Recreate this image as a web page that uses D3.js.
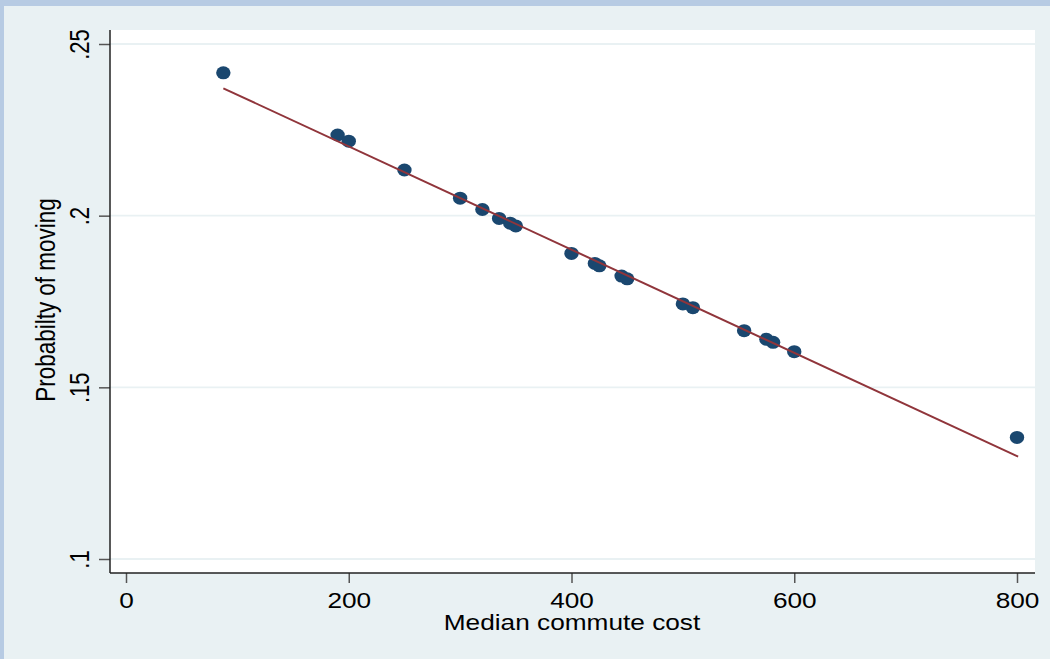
<!DOCTYPE html>
<html>
<head>
<meta charset="utf-8">
<script src="https://cdn.jsdelivr.net/npm/d3@7"></script>
<style>
  html, body { margin: 0; padding: 0; background: #e9f1f3; }
  svg { display: block; }
  text { font-family: "Liberation Sans", Arial, sans-serif; fill: #000; }
</style>
</head>
<body>
<svg id="chart" width="1050" height="659"></svg>
<script>
// commute cost vs probability of moving
var commuteCost = [87.4, 190, 200, 250, 300, 320, 335, 345, 350, 400, 421, 425,
                   445, 450, 500, 509, 555, 575, 581, 600, 800];
var probMoving  = [0.2416, 0.2235, 0.2217, 0.2133, 0.2051, 0.2018, 0.1992, 0.1978, 0.1970,
                   0.1890, 0.1861, 0.1854, 0.1824, 0.1816, 0.1743, 0.1732, 0.1665, 0.1640,
                   0.1631, 0.1604, 0.1354];

// fitted line end points
var fitX = [87.4, 801];
var fitY = [0.2371, 0.1298];

var xTicks = [0, 200, 400, 600, 800];
var yTicks = [0.1, 0.15, 0.2, 0.25];
var yTickLabels = [".1", ".15", ".2", ".25"];

var W = 1050, H = 659;
var plot = { left: 110, right: 1035, top: 30, bottom: 573 };
var stretch = 1.22;

var svg = d3.select('#chart');

var x = d3.scaleLinear().domain([0, 800]).range([126, 1017]);
var y = d3.scaleLinear().domain([0.1, 0.25]).range([559, 44]);

// outer frame
svg.append('rect').attr('x', 0).attr('y', 0).attr('width', W).attr('height', H).attr('fill', '#b7cbe3');
svg.append('rect').attr('x', 4).attr('y', 6).attr('width', W - 4).attr('height', H - 6).attr('fill', '#e9f1f3');

// plot region
svg.append('rect')
    .attr('x', plot.left).attr('y', plot.top)
    .attr('width', plot.right - plot.left).attr('height', plot.bottom - plot.top)
    .attr('fill', '#fff');

// grid
svg.append('g').selectAll('line')
    .data(yTicks)
    .enter().append('line')
    .attr('x1', plot.left).attr('x2', plot.right)
    .attr('y1', function(d) { return y(d); })
    .attr('y2', function(d) { return y(d); })
    .attr('stroke', '#e9f1f3')
    .attr('stroke-width', 1.8);

// y axis
var yAxis = d3.axisLeft(y).tickValues(yTicks).tickSize(11)
    .tickFormat(function(d, i) { return yTickLabels[i]; });
var gy = svg.append('g').attr('transform', 'translate(' + plot.left + ',0)').call(yAxis);
gy.select('.domain').remove();
gy.selectAll('.tick line').attr('stroke', '#555').attr('stroke-width', 1.5);
gy.selectAll('.tick text').remove();
gy.selectAll('.tick').append('text')
    .attr('transform', 'translate(-21,0) scale(' + stretch + ',1) rotate(-90)')
    .attr('text-anchor', 'middle')
    .attr('font-size', 22)
    .text(function(d, i) { return yTickLabels[i]; });

svg.append('line')
    .attr('x1', plot.left).attr('x2', plot.left)
    .attr('y1', plot.top).attr('y2', plot.bottom)
    .attr('stroke', '#222').attr('stroke-width', 1.5);

// x axis
var xAxis = d3.axisBottom(x).tickValues(xTicks).tickSize(10).tickFormat(d3.format('d'));
var gx = svg.append('g').attr('transform', 'translate(0,' + plot.bottom + ')').call(xAxis);
gx.select('.domain').remove();
gx.selectAll('.tick line').attr('stroke', '#555').attr('stroke-width', 1.5);
gx.selectAll('.tick text').remove();
gx.selectAll('.tick').append('text')
    .attr('transform', 'translate(0,35) scale(' + stretch + ',1)')
    .attr('text-anchor', 'middle')
    .attr('font-size', 21.5)
    .text(function(d) { return d; });

svg.append('line')
    .attr('x1', plot.left).attr('x2', plot.right)
    .attr('y1', plot.bottom).attr('y2', plot.bottom)
    .attr('stroke', '#222').attr('stroke-width', 1.5);

// axis titles
svg.append('text')
    .attr('transform', 'translate(572,630) scale(' + stretch + ',1)')
    .attr('text-anchor', 'middle')
    .attr('font-size', 21.5)
    .text('Median commute cost');

svg.append('text')
    .attr('transform', 'translate(55,300) scale(' + stretch + ',1) rotate(-90)')
    .attr('text-anchor', 'middle')
    .attr('font-size', 22.5)
    .text('Probabilty of moving');

// markers
svg.append('g').selectAll('ellipse')
    .data(commuteCost)
    .enter().append('ellipse')
    .attr('cx', function(d) { return x(d); })
    .attr('cy', function(d, i) { return y(probMoving[i]); })
    .attr('rx', 7.2).attr('ry', 6.5)
    .attr('fill', '#1a476f');

// fitted line
var line = d3.line()
    .x(function(d) { return x(d); })
    .y(function(d, i) { return y(fitY[i]); });
svg.append('path')
    .attr('d', line(fitX))
    .attr('fill', 'none')
    .attr('stroke', '#90353b')
    .attr('stroke-width', 2);
</script>
</body>
</html>
